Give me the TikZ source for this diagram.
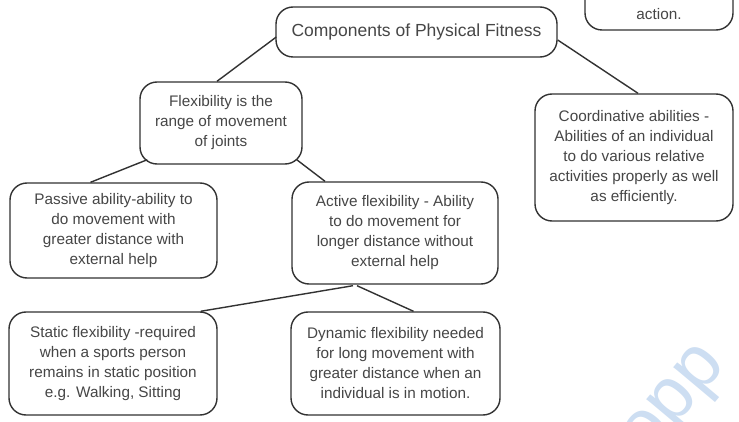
\documentclass[tikz,border=0pt]{standalone}
\usepackage{fontspec}
\setmainfont{Liberation Sans}
\usetikzlibrary{calc}
\definecolor{edge}{RGB}{50,50,50}
\definecolor{txt}{RGB}{70,70,70}
\definecolor{wm}{RGB}{205,222,242}
\begin{document}
\begin{tikzpicture}[x=1pt,y=-1pt,
  box/.style={draw=edge, line width=1.4pt, rounded corners=17pt, align=center,
    text=txt, font=\fontsize{15.3}{20}\selectfont, inner sep=0pt, fill=white},
  link/.style={draw=edge, line width=1.4pt}]
\useasboundingbox (0,0) rectangle (739,422);
\clip (0,0) rectangle (739,422);
\fill[white] (0,0) rectangle (739,422);
% watermark
\node[text=wm, rotate=50, font=\fontsize{74}{74}\selectfont, anchor=west, inner sep=0pt] (wmk) at (638,452) {opp};
\node[box, minimum width=281pt, minimum height=50pt, font=\fontsize{17.5}{20}\selectfont] (title) at (416.5,32) {Components of Physical Fitness};
\node[box, minimum width=162pt, minimum height=82pt] (flex) at (221,123) {Flexibility is the\\range of movement\\of joints};
\node[box, minimum width=198pt, minimum height=127pt] (coord) at (634,157.5) {Coordinative abilities -\\Abilities of an individual\\to do various relative\\activities properly as well\\as efficiently.};
\node[box, minimum width=207pt, minimum height=95pt] (passive) at (113.5,230.5) {Passive ability-ability to\\do movement with\\greater distance with\\external help};
\node[box, minimum width=206pt, minimum height=102pt] (active) at (395,233) {Active flexibility - Ability\\to do movement for\\longer distance without\\external help};
\node[box, minimum width=208pt, minimum height=103pt] (static) at (113,363.5) {Static flexibility -required\\when a sports person\\remains in static position\\e.g. Walking, Sitting};
\node[box, minimum width=209pt, minimum height=103pt] (dynamic) at (395.5,363.5) {Dynamic flexibility needed\\for long movement with\\greater distance when an\\individual is in motion.};
\node[box, minimum width=148pt, minimum height=62pt] (topright) at (659,-1) {};
\node[text=txt, font=\fontsize{15.3}{20}\selectfont] (act) at (659,14) {action.};
\draw[link] ($(title.west)+(1,5)$) -- ($(flex.north)+(-4,0)$);
\draw[link] ($(title.east)+(0,8)$) -- ($(coord.north)+(4,0)$);
\draw[link] ($(flex.south west)+(8,-5)$) -- ($(passive.north)+(-23,0)$);
\draw[link] ($(flex.south east)+(-6,-5)$) -- ($(active.north)+(-70,0)$);
\draw[link] ($(active.south)+(-42,1)$) -- ($(static.north east)+(-17,0)$);
\draw[link] ($(active.south)+(-38,1)$) -- ($(dynamic.north)+(18,0)$);
\end{tikzpicture}
\end{document}
